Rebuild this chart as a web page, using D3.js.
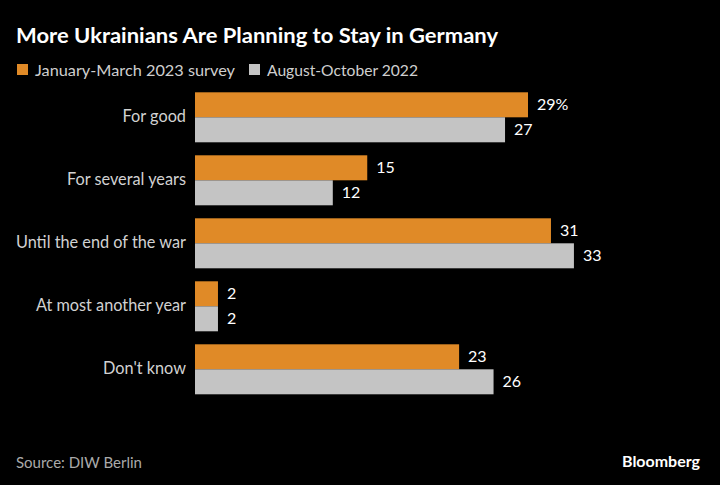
<!DOCTYPE html>
<html><head><meta charset="utf-8">
<script src="https://cdn.jsdelivr.net/npm/d3@7"></script>
<style>html,body{margin:0;padding:0;background:#000;}svg{display:block;}</style>
</head><body>
<script>
const categories = ["For good", "For several years", "Until the end of the war", "At most another year", "Don't know"];
const series2023 = [29, 15, 31, 2, 23];
const series2022 = [27, 12, 33, 2, 26];
const seriesNames = ["January-March 2023 survey", "August-October 2022"];
const colors = ["#E08A27", "#C4C4C4"];

const W = 720, H = 485;
const font = "Lato, 'Open Sans', sans-serif";
const svg = d3.select("body").append("svg").attr("width", W).attr("height", H).style("background", "#000");

svg.append("text").attr("x", 16).attr("y", 43).text("More Ukrainians Are Planning to Stay in Germany")
  .attr("fill", "#fff").attr("font-family", font).attr("font-weight", 700).attr("font-size", 21)
  .attr("textLength", 482).attr("lengthAdjust", "spacingAndGlyphs");

// legend
const legX = [17, 249];
const legLen = [200, 151];
seriesNames.forEach((n, i) => {
  svg.append("rect").attr("x", legX[i]).attr("y", 64).attr("width", 11).attr("height", 11).attr("fill", colors[i]);
  svg.append("text").attr("x", legX[i] + 18).attr("y", 75.5).text(n).attr("fill", "#cfcfcf")
    .attr("font-family", font).attr("font-size", 16).attr("textLength", legLen[i]).attr("lengthAdjust", "spacingAndGlyphs");
});

const x = d3.scaleLinear().domain([0, 29]).range([195, 528]);
const y = d3.scaleBand().domain(categories).range([92.3, 394.3]).paddingInner(13/63).paddingOuter(0);
const sub = d3.scaleBand().domain([0, 1]).range([0, y.bandwidth()]);

const g = svg.append("g");
categories.forEach((c, i) => {
  const vals = [series2023[i], series2022[i]];
  vals.forEach((v, j) => {
    g.append("rect").attr("x", x(0)).attr("y", y(c) + sub(j)).attr("width", x(v) - x(0)).attr("height", sub.bandwidth())
      .attr("fill", colors[j]);
    g.append("text").attr("x", x(v) + 9).attr("y", y(c) + sub(j) + sub.bandwidth() / 2 + 1)
      .attr("dominant-baseline", "middle").attr("fill", "#fff").attr("font-family", font).attr("font-size", 16)
      .text(i === 0 && j === 0 ? v + "%" : v);
  });
  g.append("text").attr("x", 186).attr("y", y(c) + y.bandwidth() / 2 + 1).attr("dominant-baseline", "middle")
    .attr("text-anchor", "end").attr("fill", "#d2d2d2").attr("font-family", font).attr("font-size", 16.3).text(c);
});

svg.append("text").attr("x", 16).attr("y", 468).text("Source: DIW Berlin").attr("fill", "#aaaaaa")
  .attr("font-family", font).attr("font-size", 15);
svg.append("text").attr("x", 700).attr("y", 467).attr("text-anchor", "end").text("Bloomberg").attr("fill", "#fff")
  .attr("font-family", font).attr("font-weight", 700).attr("font-size", 15).attr("textLength", 78).attr("lengthAdjust", "spacingAndGlyphs");
</script>
</body></html>
